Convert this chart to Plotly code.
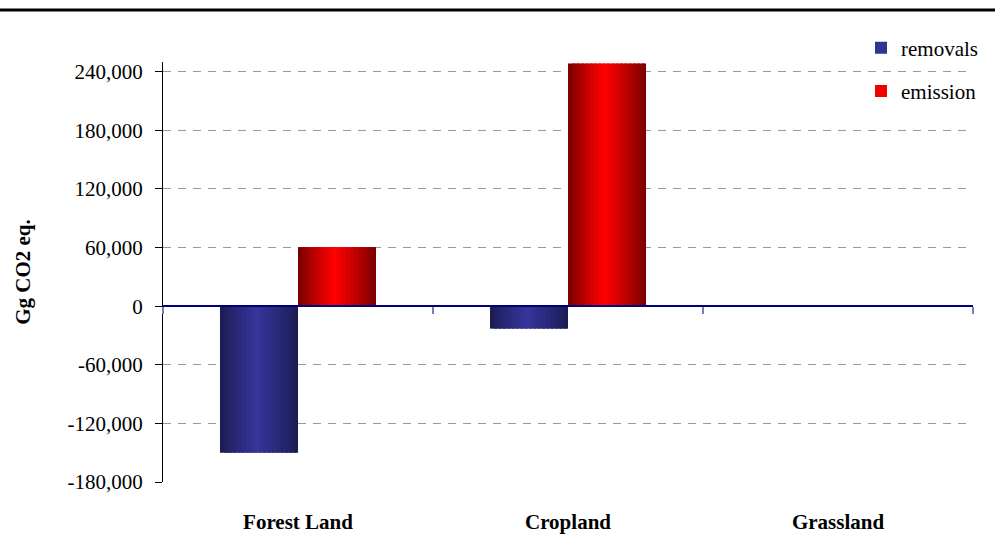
import plotly.graph_objects as go

# ---- data ----
categories = ["Forest Land", "Cropland", "Grassland"]
removals = [-150000, -23000, 0]
emission = [60500, 248500, 0]
series_names = ["removals", "emission"]
y_tickvals = [-180000, -120000, -60000, 0, 60000, 120000, 180000, 240000]
y_ticktext = ["-180,000", "-120,000", "-60,000", "0", "60,000", "120,000", "180,000", "240,000"]

Y_MIN, Y_MAX = -180000, 250000
W, H = 995, 534
PLOT_L, PLOT_R, PLOT_T, PLOT_B = 163, 973, 62, 482
BAR_W = 0.289
N_SLICES = 18
SERIF = "Liberation Serif"


def shade(dark, bright, t):
    # cylinder-like horizontal gradient: dark edges, bright near the middle
    peak = 0.47
    b = t / peak if t <= peak else (1 - t) / (1 - peak)
    b = max(0.0, min(1.0, b)) ** 0.8
    return "rgb(%d,%d,%d)" % tuple(round(d + (br - d) * b) for d, br in zip(dark, bright))


styles = {
    "removals": ((26, 26, 76), (53, 53, 155), -BAR_W),
    "emission": ((110, 0, 0), (255, 0, 0), 0.0),
}

fig = go.Figure()
for name, vals in zip(series_names, [removals, emission]):
    dark, bright, start = styles[name]
    sw = BAR_W / N_SLICES
    for k in range(N_SLICES):
        t = (k + 0.5) / N_SLICES
        fig.add_trace(go.Bar(
            x=categories, y=vals, name=name, legendgroup=name,
            showlegend=(k == N_SLICES // 2),
            width=sw * (1.7 if k < N_SLICES - 1 else 1.0), offset=start + k * sw,
            marker=dict(color=shade(dark, bright, t), line=dict(width=0)),
            hoverinfo="skip" if k != N_SLICES // 2 else None,
        ))

x_dom = [PLOT_L / W, PLOT_R / W]
y_dom = [(H - PLOT_B) / H, (H - PLOT_T) / H]
zero_pos = y_dom[0] + (0 - Y_MIN) / (Y_MAX - Y_MIN) * (y_dom[1] - y_dom[0])
zero_px = H * (1 - zero_pos)

fig.update_layout(
    width=W, height=H,
    paper_bgcolor="white", plot_bgcolor="white",
    barmode="overlay",
    margin=dict(l=0, r=0, t=0, b=0, autoexpand=False),
    font=dict(family=SERIF, size=20, color="black"),
    showlegend=True,
    legend=dict(
        x=861 / W, y=(H - 27.5) / H, xanchor="left", yanchor="top",
        traceorder="grouped", tracegroupgap=13,
        font=dict(family=SERIF, size=21, color="black"),
        bgcolor="rgba(0,0,0,0)", itemsizing="constant",
    ),
    # category axis drawn on the zero line; labels pushed down to the bottom
    xaxis=dict(
        domain=x_dom, type="category", categoryarray=categories,
        anchor="free", position=zero_pos,
        range=[-0.5, 2.5], tickson="boundaries",
        showline=True, linecolor="#00007f", linewidth=2,
        ticks="outside", ticklen=7, tickwidth=2, tickcolor="#7a7ab8",
        showgrid=False, zeroline=False,
        tickfont=dict(family=SERIF, size=21, color="black", weight="bold"),
        ticklabelstandoff=round(PLOT_B - zero_px) + 21,
    ),
    yaxis=dict(
        domain=y_dom,
        range=[Y_MIN, Y_MAX], tickvals=y_tickvals, ticktext=y_ticktext,
        showline=True, linecolor="black", linewidth=1,
        ticks="outside", ticklen=7, tickcolor="black", tickwidth=1,
        showgrid=True, gridcolor="#9a9a9a", gridwidth=1, griddash="8px,7px",
        zeroline=False,
        tickfont=dict(family=SERIF, size=21, color="black"),
        ticklabelstandoff=8,
        title=dict(text="Gg CO2 eq.", standoff=31,
                   font=dict(family=SERIF, size=21, color="black", weight="bold")),
    ),
    shapes=[dict(type="line", xref="paper", yref="paper",
                 x0=0, x1=1, y0=(H - 10) / H, y1=(H - 10) / H,
                 line=dict(color="black", width=3))],
)

fig.write_html(
    "out.html",
    config={"displayModeBar": False},
    post_script="document.body.style.margin='0';document.body.style.overflow='hidden';",
)
